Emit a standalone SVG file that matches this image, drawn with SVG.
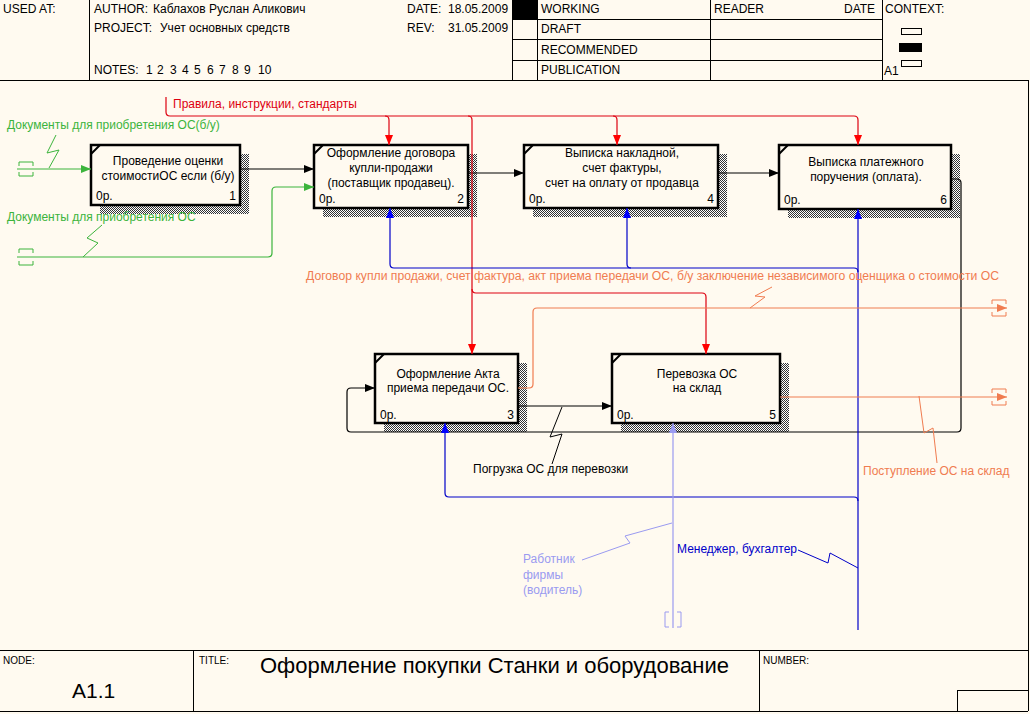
<svg xmlns="http://www.w3.org/2000/svg" width="1030" height="714" viewBox="0 0 1030 714">
<style>
text{font-family:"Liberation Sans",Arial,sans-serif;font-size:12px;fill:#000}
.frame{stroke:#000;stroke-width:1;fill:none}
.box{fill:#fffaf0;stroke:#000;stroke-width:2.5}
.shadow{fill:url(#hatch)}
.corner{stroke:#000;stroke-width:2}
.bt{text-anchor:middle}
.num{text-anchor:end}
.c{fill:none;stroke-width:1.2}
.k{stroke:#000}
.g{stroke:#3cb43c}
.r{stroke:#dd0010}
.b{stroke:#0000c8}
.lb{stroke:#9a9af0}
.o{stroke:#f07c50}
.sq{fill:none;stroke-width:1}
.tg{fill:#3cb43c}
.tr{fill:#dd0010}
.tb{fill:#0000c8}
.tlb{fill:#9a9af0}
.to{fill:#f07c50}
.small{font-size:10px}
</style>
<defs>
<pattern id="hatch" width="2" height="2" patternUnits="userSpaceOnUse"><rect width="2" height="2" fill="#fff"/><rect width="1" height="1" fill="#333"/><rect x="1" y="1" width="1" height="1" fill="#333"/></pattern>
<marker id="ak" markerUnits="userSpaceOnUse" markerWidth="10" markerHeight="8" refX="10" refY="4" orient="auto"><path d="M0,0L10,4L0,8z" fill="#000"/></marker>
<marker id="ag" markerUnits="userSpaceOnUse" markerWidth="10" markerHeight="8" refX="10" refY="4" orient="auto"><path d="M0,0L10,4L0,8z" fill="#3cb43c"/></marker>
<marker id="ar" markerUnits="userSpaceOnUse" markerWidth="10" markerHeight="8" refX="10" refY="4" orient="auto"><path d="M0,0L10,4L0,8z" fill="#ff0000"/></marker>
<marker id="ab" markerUnits="userSpaceOnUse" markerWidth="10" markerHeight="8" refX="10" refY="4" orient="auto"><path d="M0,0L10,4L0,8z" fill="#0000ff"/></marker>
<marker id="alb" markerUnits="userSpaceOnUse" markerWidth="10" markerHeight="8" refX="10" refY="4" orient="auto"><path d="M0,0L10,4L0,8z" fill="#9a9af0"/></marker>
<marker id="ao" markerUnits="userSpaceOnUse" markerWidth="10" markerHeight="8" refX="10" refY="4" orient="auto"><path d="M0,0L10,4L0,8z" fill="#f07c50"/></marker>
</defs>
<rect width="1030" height="714" fill="#fffaf0"/>

<g id="header">
<path class="frame" d="M0,80.5H1028M89.5,0V80M512.5,0V80M537.5,0V80M710.5,0V80M882.5,0V80M512,19.5H882M512,39.5H882M512,60.5H882M1028.5,80V711"/>
<rect x="513" y="0" width="24" height="19" fill="#000"/>
<text x="3" y="13">USED AT:</text>
<text x="94" y="13">AUTHOR:</text>
<text x="153" y="13">Каблахов Руслан Аликович</text>
<text x="94" y="32">PROJECT:</text>
<text x="160" y="32">Учет основных средств</text>
<text x="94" y="74">NOTES:</text>
<text x="146" y="74">1</text>
<text x="157" y="74">2</text>
<text x="170" y="74">3</text>
<text x="182" y="74">4</text>
<text x="194" y="74">5</text>
<text x="207" y="74">6</text>
<text x="219" y="74">7</text>
<text x="232" y="74">8</text>
<text x="244" y="74">9</text>
<text x="258" y="74">10</text>
<text x="407" y="13">DATE:</text>
<text x="448" y="13">18.05.2009</text>
<text x="407" y="32">REV:</text>
<text x="448" y="32">31.05.2009</text>
<text x="541" y="13">WORKING</text>
<text x="541" y="33">DRAFT</text>
<text x="541" y="54">RECOMMENDED</text>
<text x="541" y="74">PUBLICATION</text>
<text x="714" y="13">READER</text>
<text x="844" y="13">DATE</text>
<text x="885" y="13">CONTEXT:</text>
<rect x="901.5" y="28.5" width="20" height="6" fill="none" stroke="#000"/>
<rect x="899" y="43" width="23" height="9" fill="#000"/>
<rect x="901.5" y="60.5" width="20" height="6" fill="none" stroke="#000"/>
<text x="884" y="75">A1</text>
</g>

<g id="footer">
<path class="frame" d="M0,650.5H1028M0,711.5H1028M193.5,650V711M759.5,650V711M957.5,690.5H1028"/>
<path class="frame" d="M957.5,690V711"/>
<text x="3" y="664" class="small">NODE:</text>
<text x="72" y="698" style="font-size:21px">A1.1</text>
<text x="199" y="664" class="small">TITLE:</text>
<text x="260" y="673" style="font-size:22px" textLength="469" lengthAdjust="spacingAndGlyphs">Оформление покупки Станки и оборудование</text>
<text x="763" y="664" class="small">NUMBER:</text>
</g>

<g id="node1">
<rect class="shadow" x="100" y="154" width="149" height="60"/>
<rect class="box" x="91" y="145" width="149" height="60"/>
<line class="corner" x1="91" y1="154" x2="100" y2="145"/>
<text x="168" y="165" class="bt">Проведение оценки</text>
<text x="168" y="180" class="bt">стоимостиОС если (б/у)</text>
<text x="96" y="200">0р.</text>
<text x="236" y="200" class="num">1</text>
</g>
<g id="node2">
<rect class="shadow" x="323" y="154" width="154" height="63"/>
<rect class="box" x="314" y="145" width="154" height="63"/>
<line class="corner" x1="314" y1="154" x2="323" y2="145"/>
<text x="391" y="157" class="bt">Оформление договора</text>
<text x="391" y="172" class="bt">купли-продажи</text>
<text x="391" y="187" class="bt">(поставщик продавец).</text>
<text x="319" y="203">0р.</text>
<text x="464" y="203" class="num">2</text>
</g>
<g id="node4">
<rect class="shadow" x="533" y="154" width="194" height="63"/>
<rect class="box" x="524" y="145" width="194" height="63"/>
<line class="corner" x1="524" y1="154" x2="533" y2="145"/>
<text x="622" y="157" class="bt">Выписка накладной,</text>
<text x="622" y="172" class="bt">счет фактуры,</text>
<text x="622" y="187" class="bt">счет на оплату от продавца</text>
<text x="529" y="203">0р.</text>
<text x="714" y="203" class="num">4</text>
</g>
<g id="node6">
<rect class="shadow" x="788" y="154" width="172" height="64"/>
<rect class="box" x="779" y="145" width="172" height="64"/>
<line class="corner" x1="779" y1="154" x2="788" y2="145"/>
<text x="866" y="166" class="bt">Выписка платежного</text>
<text x="866" y="181" class="bt">поручения (оплата).</text>
<text x="784" y="204">0р.</text>
<text x="947" y="204" class="num">6</text>
</g>
<g id="node3">
<rect class="shadow" x="384" y="363" width="143" height="69"/>
<rect class="box" x="375" y="354" width="143" height="69"/>
<line class="corner" x1="375" y1="363" x2="384" y2="354"/>
<text x="448" y="378" class="bt">Оформление Акта</text>
<text x="448" y="392" class="bt">приема передачи ОС.</text>
<text x="380" y="419">0р.</text>
<text x="514" y="419" class="num">3</text>
</g>
<g id="node5">
<rect class="shadow" x="621" y="363" width="168" height="69"/>
<rect class="box" x="612" y="354" width="168" height="69"/>
<line class="corner" x1="612" y1="363" x2="621" y2="354"/>
<text x="697" y="378" class="bt">Перевозка ОС</text>
<text x="697" y="392" class="bt">на склад</text>
<text x="617" y="419">0р.</text>
<text x="776" y="419" class="num">5</text>
</g>

<g id="connectors">
<!-- green inputs -->
<path class="c g" d="M17,169H91" marker-end="url(#ag)"/>
<path class="sq g" d="M19,166V162H33V166M19,172V176H33V172"/>
<path class="sq g" d="M49,168L59,150L47,153L56,135"/>
<path class="c g" d="M17,257H268Q272,257 272,253V191Q272,187 276,187H314" marker-end="url(#ag)"/>
<path class="sq g" d="M19,253V249H33V253M19,261V265H33V261"/>
<path class="sq g" d="M83,257L98,243L87,238L102,225"/>
<!-- black flows -->
<path class="c k" d="M240,169H314" marker-end="url(#ak)"/>
<path class="c k" d="M468,173H524" marker-end="url(#ak)"/>
<path class="c k" d="M718,173H779" marker-end="url(#ak)"/>
<path class="c k" d="M518,406H612" marker-end="url(#ak)"/>
<path class="sq k" d="M562,407L550,437L562,434L552,464"/>
<path class="c k" d="M951,179H957Q961,179 961,183V428Q961,432 957,432H351Q347,432 347,428V392Q347,388 351,388H375" marker-end="url(#ak)"/>
<!-- red controls -->
<path class="c r" d="M166,97V112Q166,116 170,116H854Q858,116 858,120V145" marker-end="url(#ar)"/>
<path class="c r" d="M385,116Q389,116 389,120V145" marker-end="url(#ar)"/>
<path class="c r" d="M468,116Q472,116 472,120V354" marker-end="url(#ar)"/>
<path class="c r" d="M613,116Q617,116 617,120V145" marker-end="url(#ar)"/>
<path class="c r" d="M472,289Q472,293 476,293H702Q706,293 706,297V354" marker-end="url(#ar)"/>
<!-- blue mechanisms -->
<path class="c b" d="M858,630V209" marker-end="url(#ab)"/>
<path class="c b" d="M858,272Q858,268 854,268H394Q390,268 390,264V208" marker-end="url(#ab)"/>
<path class="c b" d="M631,268Q627,268 627,264V208" marker-end="url(#ab)"/>
<path class="c b" d="M858,501Q858,497 854,497H449Q445,497 445,493V423" marker-end="url(#ab)"/>
<path class="sq b" d="M798,550L828,563L830,553L858,568"/>
<path class="c lb" d="M673,628V423" marker-end="url(#alb)"/>
<path class="sq lb" d="M669,612H665V627H669M677,612H681V627H677"/>
<path class="sq lb" d="M582,560L630,543L625,536L672,523"/>
<!-- orange outputs -->
<path class="c o" d="M518,388H529Q533,388 533,384V312Q533,308 537,308H1007" marker-end="url(#ao)"/>
<path class="sq o" d="M992,304V300H1006V304M992,312V316H1006V312"/>
<path class="sq o" d="M750,308L765,297L755,296L772,287"/>
<path class="c o" d="M780,397H1007" marker-end="url(#ao)"/>
<path class="sq o" d="M992,393V389H1006V393M992,401V405H1006V401"/>
<path class="sq o" d="M919,396L924,433L933,428L937,463"/>
</g>

<g id="labels">
<text x="7" y="129" class="tg">Документы для приобретения ОС(б/у)</text>
<text x="7" y="221" class="tg">Документы для приобретения ОС</text>
<text x="173" y="108" class="tr">Правила, инструкции, стандарты</text>
<text x="306" y="280" class="to" textLength="693" lengthAdjust="spacingAndGlyphs">Договор купли продажи, счет фактура, акт приема передачи ОС, б/у заключение независимого оценщика о стоимости ОС</text>
<text x="863" y="475" class="to">Поступление ОС на склад</text>
<text x="473" y="473">Погрузка ОС для перевозки</text>
<text x="677" y="553" class="tb">Менеджер, бухгалтер</text>
<text x="523" y="563" class="tlb">Работник</text>
<text x="523" y="579" class="tlb">фирмы</text>
<text x="523" y="594" class="tlb">(водитель)</text>
</g>
</svg>
